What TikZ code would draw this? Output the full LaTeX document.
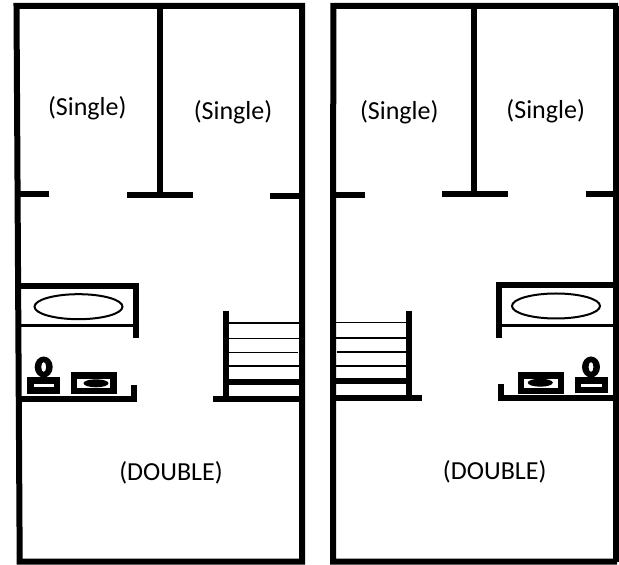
\documentclass[tikz,border=0pt]{standalone}
\usepackage{fontspec}
\setmainfont{Carlito}
\definecolor{wallColor}{RGB}{0,0,0}
\definecolor{fillColor}{RGB}{255,255,255}
\tikzset{
  wall/.style={draw=wallColor,line width=6pt,line join=miter},
  thinwall/.style={draw=wallColor,line width=2.5pt},
  tread/.style={draw=wallColor,line width=1.5pt},
  tub/.style={draw=wallColor,line width=2pt},
  fixture/.style={fill=wallColor},
  hole/.style={fill=fillColor},
  roomlabel/.style={text=wallColor,inner sep=0pt,outer sep=0pt,font=\fontsize{26}{30}\selectfont},
}
\begin{document}
\begin{tikzpicture}[x=1pt,y=1pt]
\path[use as bounding box,fill=fillColor] (0,0) rectangle (619,565);
% left unit
\path[wall] (16.5,559) -- (302,559) -- (302,3.3) -- (19.7,3.3) -- cycle;

\path[wall] (160.3,559) -- (160.3,370);

\path[wall] (127,370.3) -- (192.7,370.3);

\path[wall] (17,370.5) -- (49,370.5);

\path[wall] (270,369.3) -- (302,369.3);

\path[wall] (18,279.3) -- (136,279.3) -- (136,227);

\path[thinwall] (19,239.3) -- (134,239.3);

\path[tub] (78.5,258.3) ellipse (44 and 12.5);

\path[wall] (18,166) -- (133.7,166) -- (133.7,180);

\path[fixture] (27,171.3) rectangle (60,188);

\path[hole] (33.5,178) rectangle (54,181.3);

\path[fixture,even odd rule] (43.7,198) ellipse (9 and 10.5) (43.7,198) ellipse (2.5 and 5);

\path[fixture] (71,171.3) rectangle (117,193);

\path[hole] (77.3,177.3) rectangle (110,186);

\path[fixture] (96,181.7) ellipse (12.5 and 4);

\path[wall] (225.7,254) -- (225.7,166);

\path[wall] (213,166) -- (302,166);

\path[wall] (226,183.3) -- (302,183.3);

\path[tread] (226,242) -- (300,242);

\path[tread] (226,226.7) -- (300,226.7);

\path[tread] (226,212.7) -- (298,212.7);

\path[tread] (226,199) -- (300,199);
% right unit
\path[wall] (618,559) -- (333.3,559) -- (333,3.3) -- (617,3.3);

\path[wall] (615.5,559) -- (615.5,3.3);

\path[wall] (474.3,559) -- (474.3,371);

\path[wall] (442,371) -- (508,371);

\path[wall] (333,369.7) -- (364.7,369.7);

\path[wall] (585.7,370.7) -- (615,370.7);

\path[wall] (616,280) -- (499,280) -- (499,227);

\path[thinwall] (500,239.3) -- (614,239.3);

\path[tub] (556,259) ellipse (44 and 12.5);

\path[wall] (616,166.7) -- (501.3,166.7) -- (501.3,180.5);

\path[fixture] (518,171.3) rectangle (564,193);

\path[hole] (524.3,177.3) rectangle (557.7,186);

\path[fixture] (540.3,182.3) ellipse (12.5 and 4);

\path[fixture] (575,172) rectangle (608,188);

\path[hole] (581,178) rectangle (601.7,181.3);

\path[fixture,even odd rule] (591,198) ellipse (9 and 10.5) (591,198) ellipse (2.5 and 5);

\path[wall] (409,254.3) -- (409,168);

\path[wall] (333,166.7) -- (422,166.7);

\path[wall] (335,183.7) -- (409,183.7);

\path[tread] (335,242.3) -- (409,242.3);

\path[tread] (335,227) -- (409,227);

\path[tread] (337,213) -- (409,213);

\path[tread] (335,199) -- (409,199);
% room labels
\node[roomlabel] (singleA) at (87.3,457) {(Single)};

\node[roomlabel] (singleB) at (233,453) {(Single)};

\node[roomlabel] (doubleA) at (171,92.3) {(DOUBLE)};

\node[roomlabel] (singleC) at (399.3,452.3) {(Single)};

\node[roomlabel] (singleD) at (545.7,454) {(Single)};

\node[roomlabel] (doubleB) at (494.7,93.3) {(DOUBLE)};
\end{tikzpicture}
\end{document}
